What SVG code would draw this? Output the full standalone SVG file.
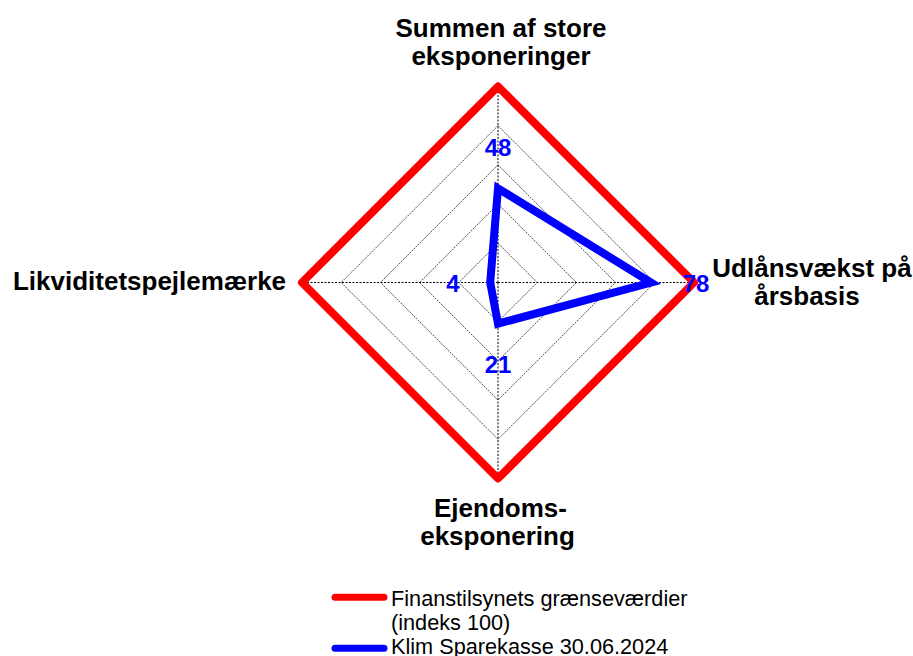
<svg xmlns="http://www.w3.org/2000/svg" width="913" height="656" viewBox="0 0 913 656">
<style>
.cat{font-family:"Liberation Sans",Arial,sans-serif;font-weight:bold;font-size:26px;fill:#000;text-anchor:middle}
.val{font-family:"Liberation Sans",Arial,sans-serif;font-weight:bold;font-size:24px;fill:#0000ff;text-anchor:middle}
.leg{font-family:"Liberation Sans",Arial,sans-serif;font-size:21.7px;fill:#000}
.ring{fill:none;stroke:#222;stroke-width:0.8;stroke-dasharray:2 1}
.axis{stroke:#000;stroke-width:1;stroke-dasharray:2 1.5}
</style>
<rect width="913" height="656" fill="#fff"/>
<g id="grid">
<polygon class="ring" points="498,243.3 537.2,282.5 498,321.7 458.8,282.5"/>
<polygon class="ring" points="498,204.1 576.4,282.5 498,360.9 419.6,282.5"/>
<polygon class="ring" points="498,164.9 615.6,282.5 498,400.1 380.4,282.5"/>
<polygon class="ring" points="498,125.7 654.8,282.5 498,439.3 341.2,282.5"/>
<line class="axis" x1="498" y1="282.5" x2="498" y2="86.5"/>
<line class="axis" x1="498" y1="282.5" x2="694" y2="282.5"/>
<line class="axis" x1="498" y1="282.5" x2="498" y2="478.5"/>
<line class="axis" x1="498" y1="282.5" x2="302" y2="282.5"/>
</g>
<g id="series">
<polygon id="limit" points="498,86.5 694,282.5 498,478.5 302,282.5" fill="none" stroke="#ff0000" stroke-width="8" stroke-linejoin="round"/>
<polygon id="klim" points="498,188.4 651,282.5 498,323.7 490.2,282.5" fill="none" stroke="#0000ff" stroke-width="8" stroke-linejoin="miter"/>
</g>
<g id="values">
<text class="val" x="498" y="156">48</text>
<text class="val" x="696" y="292">78</text>
<text class="val" x="498" y="373">21</text>
<text class="val" x="453" y="292">4</text>
</g>
<g id="labels">
<text class="cat" x="501" y="36.5">Summen af store</text>
<text class="cat" x="501" y="64.5">eksponeringer</text>
<text class="cat" x="812" y="277">Udlånsvækst på</text>
<text class="cat" x="807" y="305">årsbasis</text>
<text class="cat" x="500.5" y="516.5">Ejendoms-</text>
<text class="cat" x="497.5" y="544.5">eksponering</text>
<text class="cat" x="149.5" y="290">Likviditetspejlemærke</text>
</g>
<g id="legend">
<line x1="335" y1="597.3" x2="384" y2="597.3" stroke="#ff0000" stroke-width="7" stroke-linecap="round"/>
<text class="leg" x="391" y="606">Finanstilsynets grænseværdier</text>
<text class="leg" x="391" y="630">(indeks 100)</text>
<line x1="335" y1="648.3" x2="384" y2="648.3" stroke="#0000ff" stroke-width="7" stroke-linecap="round"/>
<text class="leg" x="391" y="654">Klim Sparekasse 30.06.2024</text>
</g>
</svg>
